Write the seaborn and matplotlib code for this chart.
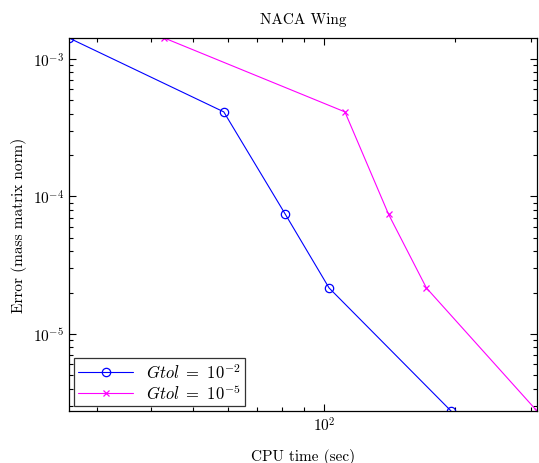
import numpy as np
import pandas as pd
import matplotlib
matplotlib.use("Agg")
import matplotlib.pyplot as plt
import seaborn as sns

# values (log-log)
cpu_gtol2 = [25.9, 58.8, 81.5, 102.7, 196.0]
err_gtol2 = [1.42e-3, 4.12e-4, 7.4e-5, 2.16e-5, 2.75e-6]
cpu_gtol5 = [42.9, 111.7, 140.8, 172.0, 309.0]
err_gtol5 = [1.42e-3, 4.12e-4, 7.4e-5, 2.16e-5, 2.75e-6]
labels = [r'$Gtol\ =\ 10^{-2}$', r'$Gtol\ =\ 10^{-5}$']

sns.set_style("ticks")
plt.rcParams['font.family'] = ['cmr10']
plt.rcParams['mathtext.fontset'] = 'cm'
plt.rcParams['axes.formatter.use_mathtext'] = True
plt.rcParams['axes.unicode_minus'] = False
for k in ['text.color', 'axes.labelcolor', 'xtick.color', 'ytick.color',
          'axes.edgecolor']:
    plt.rcParams[k] = 'black'

fig = plt.figure(figsize=(5.39, 4.64), dpi=100)
ax = fig.add_axes([69 / 539, 1 - 412 / 464, 468 / 539, 373 / 464])

sns.lineplot(x=cpu_gtol2, y=err_gtol2, ax=ax, color='#0000ff', marker='o',
             markersize=6, markerfacecolor='none', markeredgecolor='#0000ff',
             markeredgewidth=0.9, linewidth=0.8, sort=False, label=labels[0])
sns.lineplot(x=cpu_gtol5, y=err_gtol5, ax=ax, color='#ff00ff', marker='x',
             markersize=5, markeredgecolor='#ff00ff', markeredgewidth=0.9,
             linewidth=0.8, sort=False, label=labels[1])

ax.set_xscale('log')
ax.set_yscale('log')
ax.set_xlim(min(cpu_gtol2), max(cpu_gtol5))
ax.set_ylim(min(err_gtol2), max(err_gtol2))

ax.tick_params(which='both', direction='in', top=True, right=True,
               labelsize=11, width=0.8)
ax.tick_params(which='major', length=5)
ax.tick_params(which='minor', length=3)
for s in ax.spines.values():
    s.set_linewidth(0.9)

ax.set_title('NACA Wing', fontsize=11, pad=11)
ax.set_xlabel('CPU time (sec)', fontsize=11, labelpad=10)
ax.set_ylabel('Error (mass matrix norm)', fontsize=11, labelpad=4)

leg = ax.legend(loc='lower left', fontsize=12, frameon=True, fancybox=False,
                edgecolor='black', borderaxespad=0.3, handlelength=3.3,
                borderpad=0.25, labelspacing=0.1)
leg.get_frame().set_linewidth(0.9)

plt.savefig('out.png', dpi=100)
